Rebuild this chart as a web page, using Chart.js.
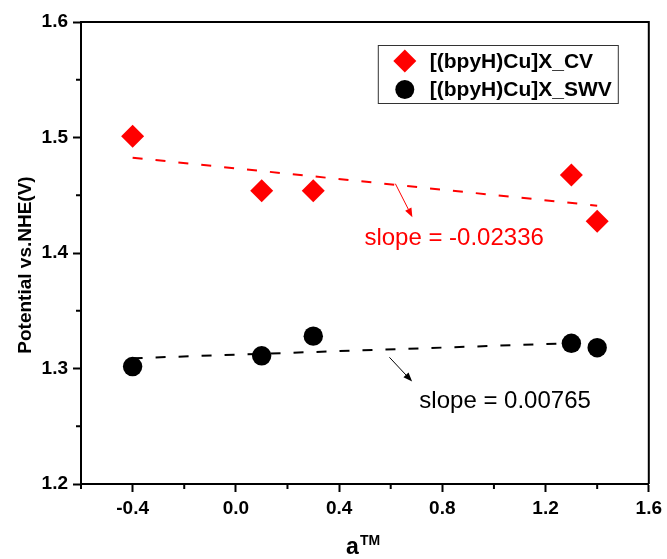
<!DOCTYPE html>
<html>
<head>
<meta charset="utf-8">
<script src="https://cdn.jsdelivr.net/npm/chart.js@4.4.1/dist/chart.umd.min.js"></script>
<style>
  html, body { margin: 0; padding: 0; background: #fff; }
  #wrap { width: 667px; height: 559px; }
</style>
</head>
<body>
<div id="wrap"><canvas id="chart" width="667" height="559"></canvas></div>
<script>
// values
const aTM = [-0.4, 0.1, 0.3, 1.3, 1.4];
const cvPotential = [1.501, 1.454, 1.454, 1.4675, 1.4275];
const swvPotential = [1.3017, 1.311, 1.328, 1.3218, 1.318];
// linear fit end points
const fitX = [-0.4, 1.4];
const cvFit = [1.4825, 1.441];
const swvFit = [1.3089, 1.3227];
const xTicks = [-0.4, 0.0, 0.4, 0.8, 1.2, 1.6];
const xMinor = [-0.6, -0.2, 0.2, 0.6, 1.0, 1.4];
const yTicks = [1.2, 1.3, 1.4, 1.5, 1.6];
const yMinor = [1.25, 1.35, 1.45, 1.55];
const seriesNames = ['[(bpyH)Cu]X_CV', '[(bpyH)Cu]X_SWV'];
const slopeLabels = ['slope = -0.02336', 'slope = 0.00765'];

const FONT = "'Liberation Sans', Arial, sans-serif";
Chart.defaults.font.family = FONT;

const pts = (xs, ys) => xs.map((x, i) => ({ x: x, y: ys[i] }));

// note text + arrow, placed in data units
const notes = [
  { text: slopeLabels[0], color: '#ff0000', tx: 0.498, ty: 1.4065, from: [0.618, 1.460], to: [0.684, 1.431] },
  { text: slopeLabels[1], color: '#000000', tx: 0.711, ty: 1.2657, from: [0.595, 1.3097], to: [0.683, 1.2887] }
];

function arrow(ctx, x1, y1, x2, y2, color) {
  const ang = Math.atan2(y2 - y1, x2 - x1);
  const len = 9, half = 3.5;
  ctx.save();
  ctx.strokeStyle = color;
  ctx.fillStyle = color;
  ctx.lineWidth = 1;
  ctx.beginPath();
  ctx.moveTo(x1, y1);
  ctx.lineTo(x2 - Math.cos(ang) * len, y2 - Math.sin(ang) * len);
  ctx.stroke();
  ctx.beginPath();
  ctx.moveTo(x2, y2);
  ctx.lineTo(x2 - Math.cos(ang) * len - Math.sin(ang) * half, y2 - Math.sin(ang) * len + Math.cos(ang) * half);
  ctx.lineTo(x2 - Math.cos(ang) * len + Math.sin(ang) * half, y2 - Math.sin(ang) * len - Math.cos(ang) * half);
  ctx.closePath();
  ctx.fill();
  ctx.restore();
}

const extras = {
  id: 'extras',
  afterDraw(chart) {
    const ctx = chart.ctx;
    const a = chart.chartArea;
    const xs = chart.scales.x, ys = chart.scales.y;
    ctx.save();
    // frame top / right
    ctx.strokeStyle = '#000';
    ctx.lineWidth = 2;
    ctx.beginPath();
    ctx.moveTo(a.left, a.top);
    ctx.lineTo(a.right, a.top);
    ctx.lineTo(a.right, a.bottom);
    ctx.stroke();
    // minor ticks
    ctx.beginPath();
    xMinor.forEach(v => {
      const px = xs.getPixelForValue(v);
      ctx.moveTo(px, a.bottom);
      ctx.lineTo(px, a.bottom + 5);
    });
    yMinor.forEach(v => {
      const py = ys.getPixelForValue(v);
      ctx.moveTo(a.left, py);
      ctx.lineTo(a.left - 5, py);
    });
    ctx.stroke();

    // slope notes
    notes.forEach(n => {
      ctx.fillStyle = n.color;
      ctx.font = '24px ' + FONT;
      ctx.textBaseline = 'alphabetic';
      ctx.textAlign = 'left';
      ctx.fillText(n.text, xs.getPixelForValue(n.tx), ys.getPixelForValue(n.ty));
      arrow(ctx, xs.getPixelForValue(n.from[0]), ys.getPixelForValue(n.from[1]),
        xs.getPixelForValue(n.to[0]), ys.getPixelForValue(n.to[1]), n.color);
    });

    // legend box
    const lx = a.right - 271, ly = a.top + 23;
    ctx.strokeStyle = '#333';
    ctx.lineWidth = 1;
    ctx.strokeRect(lx + 0.5, ly + 0.5, 240, 58);
    [0, 1].forEach(i => {
      const ds = chart.data.datasets[i];
      const cy = ly + 16 + i * 28.5;
      ctx.fillStyle = ds.backgroundColor;
      ctx.beginPath();
      if (ds.pointStyle === 'rectRot') {
        const r = 11.5;
        ctx.moveTo(lx + 27 - r, cy);
        ctx.lineTo(lx + 27, cy - r);
        ctx.lineTo(lx + 27 + r, cy);
        ctx.lineTo(lx + 27, cy + r);
        ctx.closePath();
      } else {
        ctx.arc(lx + 27, cy, 9.5, 0, Math.PI * 2);
      }
      ctx.fill();
      ctx.fillStyle = '#000';
      ctx.font = 'bold 21px ' + FONT;
      ctx.textBaseline = 'middle';
      ctx.fillText(ds.label, lx + 52, cy + 1);
    });

    // axis titles
    ctx.fillStyle = '#000';
    ctx.textBaseline = 'alphabetic';
    ctx.font = 'bold 23px ' + FONT;
    ctx.textAlign = 'left';
    const cx = (a.left + a.right) / 2;
    ctx.fillText('a', cx - 19, 554);
    ctx.font = 'bold 14px ' + FONT;
    ctx.fillText('TM', cx - 5, 545);

    ctx.save();
    ctx.translate(31, 265);
    ctx.rotate(-Math.PI / 2);
    ctx.font = 'bold 19px ' + FONT;
    ctx.textAlign = 'center';
    ctx.fillText('Potential vs.NHE(V)', 0, 0);
    ctx.restore();
    ctx.restore();
  }
};

new Chart(document.getElementById('chart').getContext('2d'), {
  type: 'scatter',
  data: {
    datasets: [
      {
        label: seriesNames[0],
        data: pts(aTM, cvPotential),
        pointStyle: 'rectRot',
        pointRadius: 11.5,
        backgroundColor: '#ff0000',
        borderColor: '#ff0000',
        borderWidth: 0,
        order: 1
      },
      {
        label: seriesNames[1],
        data: pts(aTM, swvPotential),
        pointStyle: 'circle',
        pointRadius: 9.7,
        backgroundColor: '#000000',
        borderColor: '#000000',
        borderWidth: 0,
        order: 1
      },
      {
        label: 'cv fit',
        data: pts(fitX, cvFit),
        showLine: true,
        pointRadius: 0,
        borderColor: '#ff0000',
        borderWidth: 2,
        borderDash: [10, 13],
        order: 2
      },
      {
        label: 'swv fit',
        data: pts(fitX, swvFit),
        showLine: true,
        pointRadius: 0,
        borderColor: '#000000',
        borderWidth: 2,
        borderDash: [10, 13],
        order: 2
      }
    ]
  },
  options: {
    responsive: false,
    animation: false,
    layout: { padding: { top: 22, right: 17, left: 0, bottom: 0 } },
    plugins: { legend: { display: false }, tooltip: { enabled: false } },
    scales: {
      x: {
        type: 'linear',
        min: -0.6,
        max: 1.6,
        afterBuildTicks: s => { s.ticks = xTicks.map(v => ({ value: v })); },
        afterFit: s => { s.height = 75; },
        grid: { drawOnChartArea: false, tickLength: 8, tickWidth: 2, tickColor: '#000' },
        border: { display: true, color: '#000', width: 2 },
        ticks: {
          color: '#000',
          padding: 5,
          font: { size: 19, weight: 'bold' },
          callback: v => Number(v).toFixed(1)
        }
      },
      y: {
        type: 'linear',
        min: 1.2,
        max: 1.6,
        afterBuildTicks: s => { s.ticks = yTicks.map(v => ({ value: v })); },
        afterFit: s => { s.width = 81; },
        grid: { drawOnChartArea: false, tickLength: 8, tickWidth: 2, tickColor: '#000' },
        border: { display: true, color: '#000', width: 2 },
        ticks: {
          color: '#000',
          padding: 5,
          font: { size: 19, weight: 'bold' },
          callback: v => Number(v).toFixed(1)
        }
      }
    }
  },
  plugins: [extras]
});
</script>
</body>
</html>
